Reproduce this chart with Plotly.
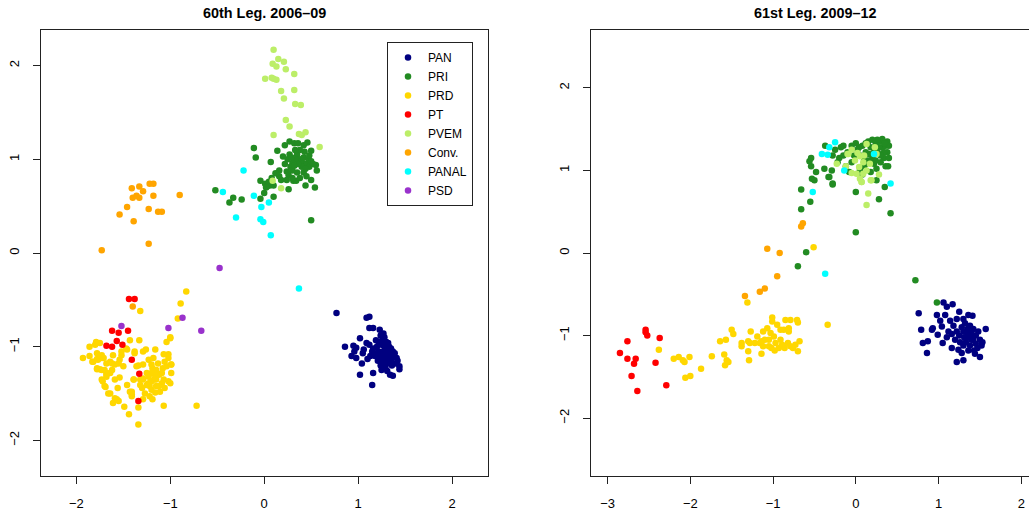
import plotly.graph_objects as go

# ---------------- 60th Legislature (2006-09) ----------------
pan60_x = [0.77,1.09,1.12,1.12,1.16,1.02,0.86,0.95,0.96,0.98,0.93,0.98,1.05,1.04,1.02,1.15,1.16,1.25,1.28,1.34,1.37,1.44,1.44,1.41,1.39,1.35,1.32,1.23,1.27,1.09,1.16,1.20,1.23,
           1.22,1.25,1.28,1.30,1.32,1.27,1.25,1.30,1.35,1.33,1.28,1.22,1.20,1.26,1.30,1.35,1.38,1.40,1.31,1.26,1.24,1.18,1.15,1.13,1.12,1.28,1.33,1.37,1.42,1.29,1.21,1.19,1.24,1.06,1.10,1.36,1.31]
pan60_y = [-0.64,-0.69,-0.68,-0.80,-0.80,-0.91,-1.00,-0.99,-1.05,-1.01,-1.10,-1.12,-1.07,-1.18,-1.30,-1.41,-1.28,-1.25,-1.21,-1.30,-1.31,-1.21,-1.24,-1.12,-1.07,-1.02,-0.96,-0.82,-0.86,-0.96,-1.02,-1.07,-1.12,
           -0.95,-0.98,-1.00,-1.03,-1.06,-1.05,-1.08,-1.10,-1.08,-1.13,-1.13,-1.05,-1.00,-0.92,-0.95,-1.15,-1.10,-1.18,-1.18,-1.16,-1.20,-1.10,-1.05,-1.10,-0.98,-0.90,-1.00,-1.05,-1.15,-1.22,-1.15,-0.93,-0.88,-1.03,-1.13,-1.20,-1.26]

pri60_x = [-0.11,-0.09,0.07,0.14,0.22,0.27,0.32,0.46,0.50,0.55,0.56,0.54,0.44,0.50,0.50,0.26,0.31,0.34,0.18,0.16,0.24,0.26,-0.04,0.01,0.03,0.06,0.00,0.10,-0.04,-0.24,-0.33,-0.37,-0.52,
           0.35,0.38,0.40,0.42,0.45,0.40,0.36,0.33,0.30,0.28,0.43,0.47,0.48,0.38,0.33,0.25,0.22,0.20,0.27,0.30,0.35,0.42,0.45,0.50,0.52,0.38,0.30,0.24,0.16,0.12,0.08,0.05,0.02,0.10,0.42,0.36,0.48,0.29,0.32,0.44]
pri60_y = [1.12,1.02,0.97,1.09,1.15,1.19,1.17,1.18,1.09,0.94,0.88,0.70,0.72,0.78,0.35,0.68,0.77,0.77,0.78,0.88,0.87,0.83,0.77,0.74,0.71,0.72,0.64,0.60,0.58,0.57,0.59,0.54,0.67,
           1.05,1.00,0.98,1.02,0.95,0.92,0.95,1.00,0.96,0.92,1.08,1.00,0.92,1.10,1.10,1.00,0.95,1.03,1.05,0.88,0.86,0.86,0.82,0.98,0.95,0.80,0.80,0.78,0.82,0.85,0.80,0.76,0.70,0.72,1.15,1.17,1.04,1.02,0.93,0.90]

prd60_x = [-0.83,-0.89,-0.92,-1.32,-1.00,-1.04,-1.33,-1.43,-1.26,-1.16,-1.86,-1.80,-1.75,-1.79,-1.93,-1.86,-1.83,-1.78,-1.73,-1.78,-1.75,-1.70,-1.68,-1.64,-1.72,-1.70,-1.64,-1.59,-1.56,-1.59,-1.61,-1.55,-1.49,-1.44,-1.34,-1.34,-1.29,-1.19,-1.07,-0.72,
           -1.64,-1.59,-1.54,-1.50,-1.52,-1.47,-1.38,-1.34,-1.39,-1.46,-1.41,-1.41,
           -1.29,-1.23,-1.20,-1.17,-1.15,-1.12,-1.08,-1.06,-1.02,-1.04,-0.99,-1.09,-1.15,-1.20,-1.25,-1.30,-1.27,-1.22,-1.16,-1.07,-1.02,-0.99,-1.13,-1.18,-1.23,-1.29,-1.32,-1.20,-1.16,-1.23,-1.15,-1.12,-1.25,-1.19,-1.22,-1.15,-1.11,-1.06,-1.00,-1.09,-1.20,
           -1.02,-1.07,-0.99,-1.29,-1.36,-1.61,-1.54,-1.66,-1.69,-1.57,-1.78,-1.73,-1.82,-1.77,-1.71,-1.68,-1.62,-1.55,-1.78,-1.73,-1.68,-1.62,-1.73,-1.68,-1.43,-1.39,-1.32,-1.29,-1.52,-1.46,-1.38,-1.41,-1.00]
prd60_y = [-0.41,-0.54,-0.70,-0.62,-0.90,-0.95,-0.93,-0.93,-1.03,-1.03,-1.00,-0.98,-0.96,-0.95,-1.12,-1.10,-1.16,-1.13,-1.12,-1.24,-1.24,-1.25,-1.30,-1.28,-1.37,-1.42,-1.50,-1.35,-1.44,-1.55,-1.60,-1.58,-1.64,-1.72,-1.83,-1.65,-1.56,-1.56,-1.63,-1.63,
           -1.16,-1.19,-1.14,-1.21,-1.09,-1.02,-1.05,-1.20,-1.35,-1.41,-1.48,-1.53,
           -1.34,-1.32,-1.28,-1.35,-1.25,-1.30,-1.23,-1.16,-1.12,-1.21,-1.19,-1.39,-1.42,-1.46,-1.41,-1.44,-1.50,-1.53,-1.49,-1.35,-1.37,-1.28,-1.18,-1.12,-1.14,-1.19,-1.35,-1.37,-1.32,-1.39,-1.35,-1.42,-1.28,-1.23,-1.42,-1.28,-1.48,-1.44,-1.39,-1.28,-1.19,
           -1.08,-1.08,-1.19,-1.05,-1.21,-1.09,-1.33,-1.50,-1.43,-1.56,-1.07,-1.09,-1.16,-1.14,-1.12,-1.18,-1.18,-1.18,-1.23,-1.25,-1.28,-1.25,-1.35,-1.32,-1.48,-1.35,-1.41,-1.35,-1.05,-1.03,-1.07,-1.51,-0.91]

pt60_x = [-1.44,-1.38,-1.62,-1.55,-1.45,-1.57,-1.51,-1.68,-1.62,-1.41,-1.33,-1.34]
pt60_y = [-0.49,-0.49,-0.83,-0.85,-0.83,-0.94,-0.98,-0.99,-1.00,-1.14,-1.29,-1.58]

pvem60_x = [0.10,0.15,0.21,0.09,0.13,0.23,0.32,0.01,0.08,0.10,0.13,0.18,0.32,0.21,0.33,0.39,0.23,0.27,0.10,0.37,0.40,0.44,0.59,0.09,0.18]
pvem60_y = [2.17,2.07,2.04,2.02,1.99,1.96,1.91,1.86,1.87,1.86,1.85,1.73,1.74,1.65,1.59,1.58,1.42,1.35,1.26,1.27,1.26,1.29,1.13,0.77,0.69]

conv60_x = [-1.41,-1.33,-1.29,-1.22,-1.18,-1.40,-1.36,-1.33,-1.18,-0.90,-1.46,-1.23,-1.13,-1.09,-1.54,-1.39,-1.23,-1.73,-1.40]
conv60_y = [0.69,0.71,0.66,0.74,0.74,0.59,0.61,0.59,0.61,0.62,0.49,0.47,0.44,0.44,0.41,0.34,0.10,0.03,-0.57]

panal60_x = [-0.22,-0.44,-0.11,0.05,-0.03,-0.30,-0.04,-0.01,0.07,0.37]
panal60_y = [0.88,0.65,0.61,0.54,0.49,0.38,0.36,0.33,0.19,-0.38]

psd60_x = [-0.475,-0.87,-1.02,-0.67,-1.52]
psd60_y = [-0.16,-0.69,-0.80,-0.83,-0.78]

# ---------------- 61st Legislature (2009-12) ----------------
pan61_x = [0.76,0.79,0.81,0.87,0.86,0.92,0.93,0.98,0.99,1.05,1.06,1.10,1.17,1.08,1.02,1.04,1.16,1.22,1.30,1.50,1.57,1.36,1.41,1.25,1.24,1.28,
           1.30,1.35,1.40,1.45,1.42,1.38,1.32,1.28,1.25,1.33,1.38,1.45,1.50,1.48,1.52,1.43,1.36,1.30,1.22,1.18,1.14,1.20,1.26,1.40,1.47,1.35,1.44,1.53,1.12,1.10,1.16,1.22,1.30,1.34,1.39,1.42,1.37,1.31]
pan61_y = [-0.73,-0.93,-1.09,-1.07,-1.21,-0.93,-0.91,-0.75,-0.99,-1.09,-0.60,-0.65,-0.62,-0.75,-0.82,-0.89,-1.15,-1.32,-1.30,-1.26,-0.92,-0.75,-0.76,-0.71,-1.17,-1.21,
           -0.95,-1.00,-1.05,-1.00,-0.92,-0.88,-0.85,-0.90,-1.00,-1.08,-1.12,-1.10,-1.05,-0.95,-1.12,-1.18,-1.18,-1.12,-0.95,-0.88,-0.82,-1.05,-1.08,-0.98,-1.15,-0.92,-1.22,-1.08,-0.95,-1.02,-0.98,-0.80,-0.80,-1.03,-1.01,-1.05,-0.96,-1.02]

pri61_x = [0.72,0.98,-0.70,-0.60,0.00,-0.66,-0.55,-0.66,0.42,0.28,0.00,0.35,0.25,-0.28,-0.33,-0.53,-0.50,-0.48,-0.54,-0.56,-0.54,-0.38,-0.29,-0.37,0.39,-0.32,-0.28,
           -0.25,-0.20,-0.15,-0.10,-0.05,0.00,0.02,0.05,0.08,0.10,0.12,0.15,0.18,0.20,0.22,0.24,0.26,0.28,0.30,0.32,0.34,0.36,0.38,0.38,0.40,0.36,0.30,0.25,0.18,0.15,-0.05,-0.12,-0.18,-0.22,-0.28,0.05,0.08,-0.08,0.40,0.32,0.26,0.20,0.12,0.28,0.22,0.34,0.30,0.16,0.10,-0.02,0.04,-0.15,0.35,0.24,0.12]
pri61_y = [-0.33,-0.60,-0.16,0.01,0.25,0.53,0.62,0.77,0.48,0.65,0.74,0.80,0.88,0.84,0.92,0.90,0.88,0.98,1.05,1.11,1.15,1.02,1.00,1.30,1.05,0.92,0.83,
           1.25,1.15,1.30,1.22,1.10,1.33,1.25,1.18,1.30,1.05,1.22,1.35,1.28,1.15,1.08,1.32,1.25,1.20,1.35,1.28,1.15,1.30,1.35,1.22,1.30,1.05,1.10,1.02,0.98,1.12,1.30,1.05,1.28,1.10,1.18,1.00,0.95,0.98,1.15,1.38,1.37,1.37,1.33,1.28,1.22,1.22,1.18,1.20,1.15,1.18,1.28,1.18,1.33,1.12,1.08]

prd61_x = [-2.38,-2.20,-2.14,-2.09,-2.07,-2.01,-2.06,-2.00,-1.87,-1.74,-1.64,-1.57,-1.59,-1.56,-1.54,-1.58,-1.50,-1.48,-1.38,-1.38,-1.30,-1.28,-1.29,-1.27,-1.30,-1.31,-0.51,-0.34,
           -1.22,-1.16,-1.14,-1.12,-1.10,-1.12,-1.07,-1.03,-1.01,-1.01,-0.95,-0.99,-0.97,-0.93,-0.91,-0.89,-0.86,-0.85,-0.81,-0.81,-0.79,-0.82,-0.79,-0.76,-0.71,-0.70,-0.68,-0.70,-1.05,-1.02,-0.98,-1.05,-1.14,-1.19,-0.91,-0.87,-0.73]
prd61_y = [-1.17,-1.28,-1.26,-1.30,-1.32,-1.26,-1.51,-1.49,-1.40,-1.25,-1.07,-1.05,-1.23,-1.30,-1.32,-1.36,-0.93,-0.98,-1.09,-1.13,-1.07,-1.09,-1.30,-0.95,-1.19,-0.60,0.07,-0.87,
           -1.09,-1.09,-1.22,-1.13,-1.05,-0.95,-0.91,-0.97,-0.78,-0.83,-0.87,-1.01,-1.09,-1.15,-1.05,-1.11,-1.15,-0.81,-0.95,-0.91,-0.81,-1.09,-1.13,-1.15,-0.81,-0.84,-1.07,-1.19,-1.13,-1.15,-1.18,-1.05,-1.07,-1.01,-0.93,-0.93,-1.11]

pt61_x = [-2.85,-2.76,-2.76,-2.71,-2.68,-2.66,-2.64,-2.54,-2.54,-2.52,-2.42,-2.37,-2.29]
pt61_y = [-1.21,-1.07,-1.28,-1.49,-1.34,-1.28,-1.67,-0.93,-0.96,-1.00,-1.33,-1.03,-1.60]

pvem61_x = [0.15,0.13,0.07,0.05,0.01,0.09,-0.05,0.18,0.28,-0.23,-0.12,-0.09,-0.05,0.02,0.05,0.10,0.13,0.23,0.25,0.09,0.17,-0.01,0.04,0.13,0.19,0.07,-0.10]
pvem61_y = [0.72,0.58,0.86,0.90,0.96,0.96,0.97,0.88,0.95,1.08,1.05,1.20,1.25,1.21,1.17,1.18,1.32,1.28,1.20,1.10,1.08,1.12,1.04,1.00,0.88,0.86,1.20]

conv61_x = [-0.64,-0.66,-1.07,-0.92,-0.95,-1.10,-1.16,-1.34]
conv61_y = [0.36,0.32,0.05,0.00,-0.28,-0.43,-0.47,-0.52]

panal61_x = [-0.37,-0.52,0.42,-0.14,0.22,-0.41,-0.34,-0.32,-0.25]
panal61_y = [-0.25,0.74,0.84,1.00,1.20,1.20,1.19,1.28,1.34]

parties = ["PAN", "PRI", "PRD", "PT", "PVEM", "Conv.", "PANAL", "PSD"]
colors = ["#000080", "#228B22", "#FFD700", "#FF0000", "#BCEE68", "#FFA500", "#00FFFF", "#9932CC"]

leg60 = [(pan60_x, pan60_y), (pri60_x, pri60_y), (prd60_x, prd60_y), (pt60_x, pt60_y),
         (pvem60_x, pvem60_y), (conv60_x, conv60_y), (panal60_x, panal60_y), (psd60_x, psd60_y)]
leg61 = [(pan61_x, pan61_y), (pri61_x, pri61_y), (prd61_x, prd61_y), (pt61_x, pt61_y),
         (pvem61_x, pvem61_y), (conv61_x, conv61_y), (panal61_x, panal61_y), ([], [])]

FONT = "Liberation Sans, Arial, Helvetica, sans-serif"
fig = go.Figure()
for name, col, (xs, ys) in zip(parties, colors, leg60):
    fig.add_trace(go.Scatter(x=xs, y=ys, mode="markers", name=name, xaxis="x", yaxis="y",
                             marker=dict(color=col, size=6.5, line=dict(width=0))))
for name, col, (xs, ys) in zip(parties, colors, leg61):
    fig.add_trace(go.Scatter(x=xs, y=ys, mode="markers", name=name, xaxis="x2", yaxis="y2",
                             showlegend=False, marker=dict(color=col, size=6.5, line=dict(width=0))))

W, H = 1029, 514
ydom = [38 / H, 484 / H]
axis_common = dict(showgrid=False, zeroline=False, showline=True, linecolor="#222", linewidth=1,
                   ticks="outside", ticklen=7, tickcolor="#222",
                   tickfont=dict(size=13, color="#000", family=FONT))

fig.update_layout(
    width=W, height=H, margin=dict(l=0, r=0, t=0, b=0),
    paper_bgcolor="white", plot_bgcolor="white",
    font=dict(family=FONT, color="#000"),
    xaxis=dict(domain=[40.7 / W, 487.7 / W], range=[-2.38, 2.38], tickvals=[-2, -1, 0, 1, 2], mirror=True,
               anchor="y", ticklabelstandoff=8, **axis_common),
    yaxis=dict(domain=ydom, range=[-2.38, 2.38], tickvals=[-2, -1, 0, 1, 2], mirror=True, tickangle=-90,
               anchor="x", ticklabelstandoff=9, **axis_common),
    xaxis2=dict(domain=[591 / W, 1.0], range=[-3.2, 2.093], tickvals=[-3, -2, -1, 0, 1, 2], mirror=True,
                anchor="y2", ticklabelstandoff=8, **axis_common),
    yaxis2=dict(domain=ydom, range=[-2.7, 2.7], tickvals=[-2, -1, 0, 1, 2], mirror=False, tickangle=-90,
                anchor="x2", ticklabelstandoff=9, **axis_common),
    legend=dict(x=387 / W, y=1 - 42 / H, xanchor="left", yanchor="top", bordercolor="#222", borderwidth=1,
                bgcolor="white", font=dict(size=12, family=FONT), itemwidth=30, tracegroupgap=0),
    showlegend=True,
    annotations=[
        dict(text="<b>60th Leg. 2006–09</b>", x=264.2 / W, y=1 - 13 / H, xref="paper", yref="paper",
             showarrow=False, font=dict(size=14.4, family=FONT), xanchor="center", yanchor="middle"),
        dict(text="<b>61st Leg. 2009–12</b>", x=814.5 / W, y=1 - 13 / H, xref="paper", yref="paper",
             showarrow=False, font=dict(size=14.4, family=FONT), xanchor="center", yanchor="middle"),
    ],
)

fig.write_html("out.html")
